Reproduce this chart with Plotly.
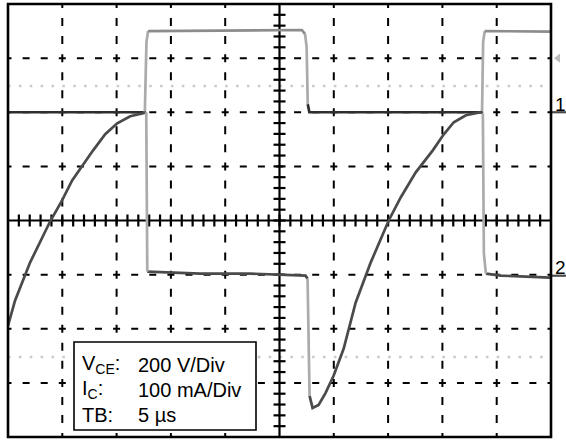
import plotly.graph_objects as go

# ---------------- data (screen divisions: x 0..10, y -4..4) ----------------
# Channel 1: V_CE (200 V/Div)
vce_t = [0.0, 2.52, 2.55, 2.58, 5.41, 5.47, 5.50, 5.52, 5.55, 8.73, 8.75, 8.78, 10.0]
vce_v = [2.0, 2.0, 3.30, 3.50, 3.52, 3.45, 3.20, 2.15, 2.0, 2.0, 3.30, 3.50, 3.49]

# Channel 2: I_C (100 mA/Div)
ic_t = [0.0, 0.129, 0.406, 0.775, 0.996, 1.181, 1.568, 1.790, 2.011, 2.251, 2.491, 2.546,
        2.565, 3.542, 4.465, 5.480, 5.517, 5.554, 5.609, 5.720, 5.849, 5.996, 6.181, 6.402,
        6.679, 7.011, 7.232, 7.509, 7.823, 8.026, 8.210, 8.432, 8.708, 8.745, 8.764, 8.801,
        9.077, 9.982]
ic_v = [-1.944, -1.481, -0.778, -0.019, 0.370, 0.741, 1.296, 1.593, 1.796, 1.926, 1.981, 2.0,
        -0.944, -0.981, -0.981, -1.019, -1.074, -3.24, -3.463, -3.407, -3.185, -2.870, -2.370, -1.519,
        -0.778, 0.0, 0.426, 0.889, 1.296, 1.593, 1.815, 1.944, 2.0, 1.981, -0.611, -0.981,
        -1.019, -1.056]

ch_labels = ["1", "2"]
ch_levels = [2.0, -1.02]
ref_levels = [2.486, -2.523]
trig_level = 3.0

info_labels = ["V<sub>CE</sub>:", "I<sub>C</sub>:", "TB:"]
info_values = ["200 V/Div", "100 mA/Div", "5 \u00b5s"]

# ---------------- geometry ----------------
W, H = 566, 440
L, R, T, B = 8, 0, 4, 3
PW, PH = W - L - R, H - T - B
DX, DY = 54.3, PH / 8.0
XMAX = PW / DX


def px2x(px):
    return (px - L) / DX


def py2y(py):
    return (T + PH / 2.0 - py) / DY


fig = go.Figure()

# dotted reference lines
shapes = []
for lv in ref_levels:
    shapes.append(dict(type="line", xref="x", yref="y", x0=0, x1=10, y0=lv, y1=lv,
                       line=dict(color="#cbcbcb", width=2.6, dash="2.6px,8.26px"), layer="below"))
# dashed grid
hp = DX / 3.0
vp = DY / 3.0
for gx in [1, 2, 3, 4, 6, 7, 8, 9]:
    shapes.append(dict(type="line", xref="x", yref="y", x0=gx, x1=gx, y0=-4, y1=4,
                       line=dict(color="black", width=2,
                                 dash=f"4px,{vp-8:.2f}px,4px,0px"), layer="below"))
for gy in [-3, -2, -1, 1, 2, 3]:
    shapes.append(dict(type="line", xref="x", yref="y", x0=0, x1=10, y0=gy, y1=gy,
                       line=dict(color="black", width=2,
                                 dash=f"3.5px,{hp-7:.2f}px,3.5px,0px"), layer="below"))

# center axes with ticks
ax_x, ax_y = [0, 10, None, 5, 5], [0, 0, None, -4, 4]
tk = 6.0
i = 1
while i < 50:
    xv = i * 0.2
    ax_x += [None, xv, xv]
    ax_y += [None, -tk / DY, tk / DY]
    i += 1
i = 1
while i < 40:
    yv = -4 + i * 0.2
    ax_x += [None, 5 - tk / DX, 5 + tk / DX]
    ax_y += [None, yv, yv]
    i += 1
fig.add_trace(go.Scatter(x=ax_x, y=ax_y, mode="lines", line=dict(color="black", width=2.2),
                         hoverinfo="skip", showlegend=False))


def runs(t, v, cat_fn):
    out = {}
    cur, xs, ys = None, [], []
    for k in range(len(t) - 1):
        c = cat_fn(t[k], v[k], t[k + 1], v[k + 1])
        if c != cur:
            if cur is not None:
                o = out.setdefault(cur, ([], []))
                o[0].extend(xs + [None]); o[1].extend(ys + [None])
            cur, xs, ys = c, [t[k]], [v[k]]
        xs.append(t[k + 1]); ys.append(v[k + 1])
    if cur is not None:
        o = out.setdefault(cur, ([], []))
        o[0].extend(xs); o[1].extend(ys)
    return out


def steep(t0, v0, t1, v1):
    return abs((v1 - v0) * DY) > 6 * abs((t1 - t0) * DX)


def cat_vce(t0, v0, t1, v1):
    if steep(t0, v0, t1, v1):
        return "edge"
    return "hi" if min(v0, v1) >= 3 else "lo"


def cat_ic(t0, v0, t1, v1):
    return "edge" if steep(t0, v0, t1, v1) else "ic"


colors = {"edge": "#ababab", "hi": "#8c8c8c", "lo": "#2e2e2e", "ic": "#4a4a4a"}
for cat_fn, t, v in [(cat_vce, vce_t, vce_v), (cat_ic, ic_t, ic_v)]:
    for cat, (xs, ys) in runs(t, v, cat_fn).items():
        fig.add_trace(go.Scatter(x=xs, y=ys, mode="lines",
                                 line=dict(color=colors[cat], width=2.7),
                                 hoverinfo="skip", showlegend=False))

# trigger marker outside the grid
fig.add_trace(go.Scatter(x=[px2x(558)], y=[trig_level], mode="markers",
                         marker=dict(symbol="triangle-left", size=8, color="#bdbdbd"),
                         hoverinfo="skip", showlegend=False))

# channel markers on the right
for lab, lv in zip(ch_labels, ch_levels):
    fig.add_trace(go.Scatter(x=[10, XMAX], y=[lv, lv], mode="lines",
                             line=dict(color="#4a4a4a", width=2.2),
                             hoverinfo="skip", showlegend=False))
    fig.add_annotation(x=px2x(560), y=lv + 8 / DY, xref="x", yref="y", text=lab,
                       showarrow=False, xanchor="center", yanchor="middle",
                       font=dict(family="Liberation Sans, Arial", size=19, color="black"))

# info box
shapes.append(dict(type="rect", xref="x", yref="y", x0=px2x(74), x1=px2x(256),
                   y0=py2y(430), y1=py2y(342), fillcolor="white",
                   line=dict(color="black", width=1.6), layer="above"))
row_y = [364.5, 389.5, 414.5]
for lab, val, ry in zip(info_labels, info_values, row_y):
    fig.add_annotation(x=px2x(80), y=py2y(ry), xref="x", yref="y", text=lab, showarrow=False,
                       xanchor="left", yanchor="middle",
                       font=dict(family="Liberation Sans, Arial", size=20, color="black"))
    fig.add_annotation(x=px2x(136), y=py2y(ry), xref="x", yref="y", text=val, showarrow=False,
                       xanchor="left", yanchor="middle",
                       font=dict(family="Liberation Sans, Arial", size=20, color="black"))

# outer frame
shapes.append(dict(type="rect", xref="paper", yref="paper", x0=0, x1=10 * DX / PW, y0=0, y1=1,
                   line=dict(color="black", width=2.6), layer="above"))

fig.update_layout(
    width=W, height=H, margin=dict(l=L, r=R, t=T, b=B, pad=0),
    paper_bgcolor="white", plot_bgcolor="white", shapes=shapes, showlegend=False,
    xaxis=dict(range=[0, XMAX], visible=False, fixedrange=True),
    yaxis=dict(range=[-4, 4], visible=False, fixedrange=True),
)
fig.write_html("out.html", config={"displayModeBar": False},
               post_script="document.body.style.margin='0';document.body.style.padding='0';")
